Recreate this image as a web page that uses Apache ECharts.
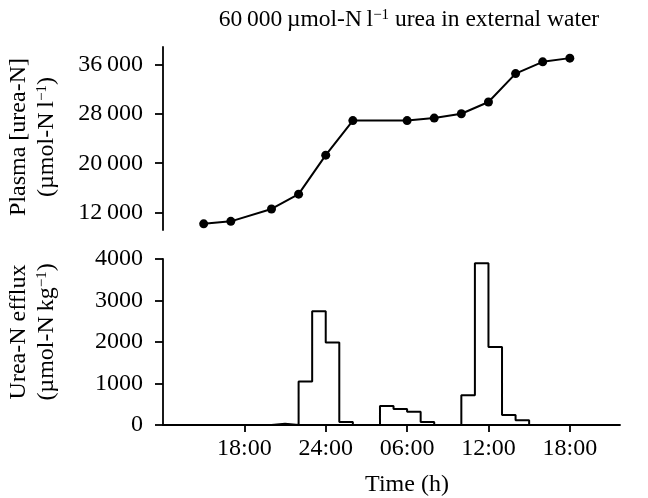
<!DOCTYPE html>
<html>
<head>
<meta charset="utf-8">
<script src="https://cdn.jsdelivr.net/npm/echarts@6/dist/echarts.min.js"></script>
<style>
  html, body { margin: 0; padding: 0; background: #fff; }
  #chart { width: 648px; height: 498px; }
</style>
</head>
<body>
<div id="chart"></div>
<script>
// hours counted from 12:00 on the first day
let plasmaHours = [3, 5, 8, 10, 12, 14, 18, 20, 22, 24, 26, 28, 30]
let plasmaUrea = [10200, 10600, 12600, 15000, 21300, 26900, 26900, 27300, 28000, 29900, 34500, 36400, 37000]

// one-hour bins, start hour of each bin
let effluxHours = [8, 10, 11, 12, 13, 16, 17, 18, 19, 22, 23, 24, 25, 26]
let effluxValues = [30, 1050, 2740, 1990, 70, 460, 385, 320, 70, 715, 3900, 1880, 240, 115]

let timeTicks = [6, 12, 18, 24, 30]
let timeLabels = ['18:00', '24:00', '06:00', '12:00', '18:00']
let plasmaTicks = [12000, 20000, 28000, 36000]

let font = 'Liberation Serif'
let fs = 24

// histogram outline as a stepped line
let stepData = [[effluxHours[0], 0]]
effluxHours.forEach((h, i) => {
  stepData.push([h, effluxValues[i]])
  if (effluxHours[i + 1] !== h + 1) stepData.push([h + 1, 0])
})

let fmtThousands = v => {
  let s = String(v)
  return v >= 10000 ? s.slice(0, -3) + '\u2009' + s.slice(-3) : s
}

let supRich = {
  sup: { fontSize: 15, lineHeight: 15, verticalAlign: 'top', fontFamily: font, color: '#000' }
}

let axisStyle = { lineStyle: { color: '#000', width: 1.8 } }
let labelStyle = { color: '#000', fontSize: fs, fontFamily: font }
let nameFont = fs + 'px "Liberation Serif"'

let chart = echarts.init(document.getElementById('chart'))
chart.setOption({
  animation: false,
  backgroundColor: '#fff',
  title: {
    text: '60\u2009000\u2009µmol-N\u2009l{sup|−1} urea in external water',
    left: 404,
    textAlign: 'center',
    top: 3,
    textStyle: {
      fontSize: 23.5,
      fontWeight: 'normal',
      fontFamily: font,
      color: '#000',
      rich: supRich
    }
  },
  grid: [
    { left: 163, right: 28, top: 47, height: 183 },
    { left: 163, right: 28, top: 259, height: 166 }
  ],
  xAxis: [
    { gridIndex: 0, type: 'value', min: 0, max: 33.7, show: false },
    {
      gridIndex: 1,
      type: 'value',
      min: 0,
      max: 33.7,
      splitLine: { show: false },
      axisLine: axisStyle,
      axisTick: { length: 7, lineStyle: { color: '#000', width: 1.8 }, customValues: timeTicks },
      axisLabel: Object.assign({
        margin: 12,
        customValues: timeTicks,
        formatter: v => timeLabels[timeTicks.indexOf(v)]
      }, labelStyle)
    }
  ],
  yAxis: [
    {
      gridIndex: 0,
      type: 'value',
      min: 9200,
      max: 38800,
      splitLine: { show: false },
      axisLine: Object.assign({ show: true }, axisStyle),
      axisTick: { show: true, length: 8, lineStyle: { color: '#000', width: 1.8 }, customValues: plasmaTicks },
      axisLabel: Object.assign({ margin: 20, customValues: plasmaTicks, formatter: fmtThousands }, labelStyle)
    },
    {
      gridIndex: 1,
      type: 'value',
      min: 0,
      max: 4000,
      interval: 1000,
      splitLine: { show: false },
      axisLine: Object.assign({ show: true }, axisStyle),
      axisTick: { show: true, length: 8, lineStyle: { color: '#000', width: 1.8 } },
      axisLabel: Object.assign({ margin: 20, formatter: v => String(v) }, labelStyle)
    }
  ],
  graphic: [
    {
      type: 'text', x: 19, y: 137, rotation: Math.PI / 2,
      style: { text: 'Plasma [urea-N]', font: nameFont, fill: '#000', align: 'center', verticalAlign: 'middle' }
    },
    {
      type: 'text', x: 47, y: 137, rotation: Math.PI / 2,
      style: { text: '(µmol-N\u2009l{sup|−1})', font: nameFont, fill: '#000', align: 'center', verticalAlign: 'middle', rich: supRich }
    },
    {
      type: 'text', x: 19, y: 332, rotation: Math.PI / 2,
      style: { text: 'Urea-N efflux', font: nameFont, fill: '#000', align: 'center', verticalAlign: 'middle' }
    },
    {
      type: 'text', x: 47, y: 332, rotation: Math.PI / 2,
      style: { text: '(µmol-N\u2009kg{sup|−1})', font: nameFont, fill: '#000', align: 'center', verticalAlign: 'middle', rich: supRich }
    },
    {
      type: 'text', x: 407, y: 485,
      style: { text: 'Time (h)', font: nameFont, fill: '#000', align: 'center', verticalAlign: 'middle' }
    }
  ],
  series: [
    {
      name: 'Plasma',
      type: 'line',
      xAxisIndex: 0,
      yAxisIndex: 0,
      data: plasmaHours.map((h, i) => [h, plasmaUrea[i]]),
      symbol: 'circle',
      symbolSize: 9,
      itemStyle: { color: '#000' },
      lineStyle: { color: '#000', width: 2 }
    },
    {
      name: 'Efflux',
      type: 'line',
      xAxisIndex: 1,
      yAxisIndex: 1,
      step: 'end',
      data: stepData,
      symbol: 'none',
      lineStyle: { color: '#000', width: 2 }
    }
  ]
})
</script>
</body>
</html>
